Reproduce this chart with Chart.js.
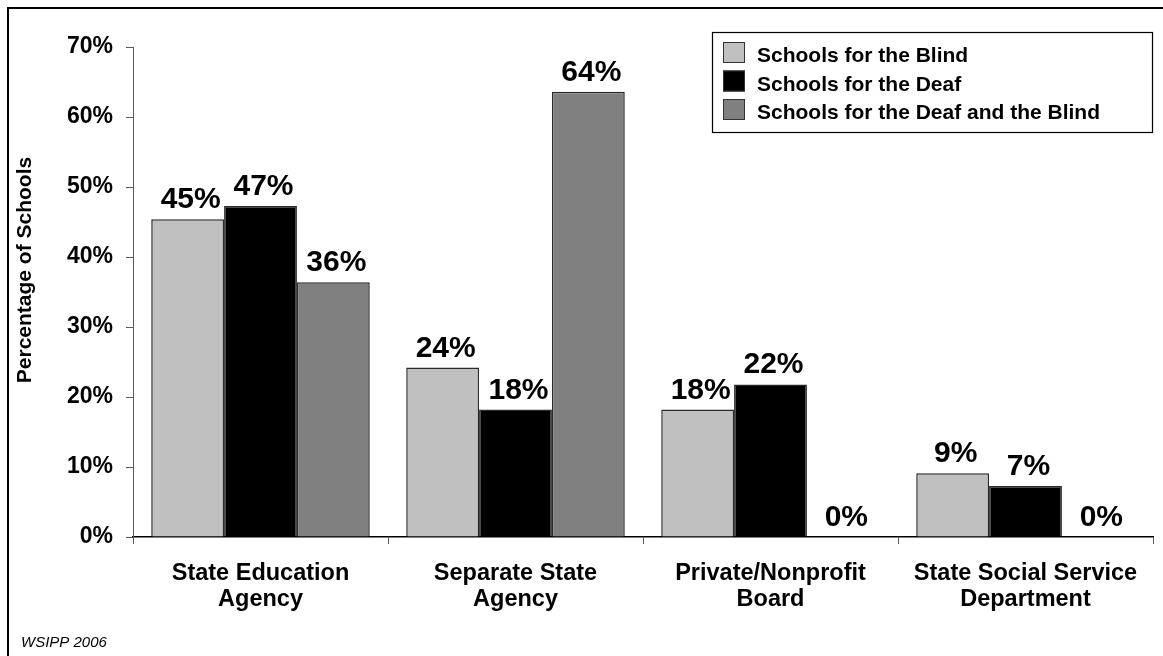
<!DOCTYPE html>
<html>
<head>
<meta charset="utf-8">
<title>Governance of State Schools for the Deaf and the Blind</title>
<script src="https://cdn.jsdelivr.net/npm/chart.js@4/dist/chart.umd.min.js"></script>
<style>
  html, body { margin: 0; padding: 0; background: #ffffff; }
  #wrap { width: 1163px; height: 656px; position: relative; }
</style>
</head>
<body>
<div id="wrap"><canvas id="chart" width="1163" height="656"></canvas></div>
<script>
// Governing bodies (two-line category labels)
const categories = [
  ['State Education', 'Agency'],
  ['Separate State', 'Agency'],
  ['Private/Nonprofit', 'Board'],
  ['State Social Service', 'Department']
];

// Share of schools under each governing body, in percent
const blindSchools = [45.4, 24.2, 18.2, 9.1];
const deafSchools = [47.3, 18.2, 21.8, 7.3];
const deafBlindSchools = [36.4, 63.6, 0, 0];

const seriesNames = [
  'Schools for the Blind',
  'Schools for the Deaf',
  'Schools for the Deaf and the Blind'
];

// Y-axis range and tick step (percent)
const yMin = 0;
const yMax = 70;
const yStep = 10;

const axisTitle = 'Percentage of Schools';
const sourceNote = 'WSIPP 2006';

const FONT = '"Liberation Sans", Arial, Helvetica, sans-serif';
const AXIS_GREY = '#5a5a5a';

// Value labels above each bar
const valueLabels = {
  id: 'valueLabels',
  afterDatasetsDraw(chart) {
    const ctx = chart.ctx;
    ctx.save();
    ctx.font = 'bold 30px ' + FONT;
    ctx.fillStyle = '#000';
    ctx.textAlign = 'center';
    ctx.textBaseline = 'alphabetic';
    chart.data.datasets.forEach((ds, di) => {
      const meta = chart.getDatasetMeta(di);
      meta.data.forEach((bar, i) => {
        const v = ds.data[i];
        ctx.fillText(Math.round(v) + '%', bar.x + 3, bar.y - 11);
      });
    });
    ctx.restore();
  }
};

// Boxed legend in the upper right, outer frame, axis title and source note
const decorations = {
  id: 'decorations',
  afterDraw(chart) {
    const ctx = chart.ctx;
    ctx.save();

    // outer frame (left and top edges of the chart object)
    ctx.strokeStyle = '#000';
    ctx.lineWidth = 2;
    ctx.beginPath();
    ctx.moveTo(8, 660);
    ctx.lineTo(8, 8);
    ctx.lineTo(1170, 8);
    ctx.stroke();

    // legend box
    ctx.lineWidth = 1.2;
    ctx.strokeStyle = '#000';
    ctx.fillStyle = '#fff';
    ctx.fillRect(712, 32, 440, 100);
    ctx.strokeRect(712.5, 32.5, 440, 100);

    ctx.font = 'bold 21px ' + FONT;
    ctx.textAlign = 'left';
    ctx.textBaseline = 'alphabetic';
    chart.data.datasets.forEach((ds, i) => {
      const base = 62 + i * 28.5;
      ctx.fillStyle = ds.backgroundColor;
      ctx.fillRect(723, base - 20, 22, 21);
      ctx.strokeStyle = '#333';
      ctx.lineWidth = 1;
      ctx.strokeRect(723.5, base - 19.5, 21, 20);
      ctx.fillStyle = '#000';
      ctx.fillText(ds.label, 757, base);
    });

    // y-axis title
    ctx.save();
    ctx.translate(31, 270);
    ctx.rotate(-Math.PI / 2);
    ctx.font = 'bold 21px ' + FONT;
    ctx.textAlign = 'center';
    ctx.textBaseline = 'alphabetic';
    ctx.fillStyle = '#000';
    ctx.fillText(axisTitle, 0, 0);
    ctx.restore();

    // source note
    ctx.font = 'italic 15px ' + FONT;
    ctx.textAlign = 'left';
    ctx.fillStyle = '#000';
    ctx.fillText(sourceNote, 21, 647);

    ctx.restore();
  }
};

const borderCol = '#2a2a2a';

new Chart(document.getElementById('chart'), {
  type: 'bar',
  data: {
    labels: categories,
    datasets: [
      { label: seriesNames[0], data: blindSchools, backgroundColor: '#c0c0c0', borderColor: borderCol, borderWidth: 1.5 },
      { label: seriesNames[1], data: deafSchools, backgroundColor: '#000000', borderColor: borderCol, borderWidth: 1.5 },
      { label: seriesNames[2], data: deafBlindSchools, backgroundColor: '#808080', borderColor: borderCol, borderWidth: 1.5 }
    ]
  },
  options: {
    responsive: false,
    devicePixelRatio: 1,
    animation: false,
    layout: { padding: { top: 47, right: 10, bottom: 0, left: 0 } },
    datasets: {
      bar: { categoryPercentage: 0.857, barPercentage: 1.0, borderSkipped: 'start' }
    },
    plugins: {
      legend: { display: false },
      tooltip: { enabled: false },
      title: { display: false }
    },
    scales: {
      x: {
        offset: true,
        grid: {
          offset: true,
          drawOnChartArea: false,
          drawTicks: true,
          tickLength: 7,
          color: AXIS_GREY,
          lineWidth: 1
        },
        border: { display: true, color: '#000', width: 1.5 },
        ticks: {
          color: '#000',
          font: { family: FONT, size: 23.5, weight: 'bold', lineHeight: 1.13 },
          padding: 16,
          maxRotation: 0,
          autoSkip: false
        },
        afterFit(scale) { scale.height = 119; }
      },
      y: {
        min: yMin,
        max: yMax,
        grid: {
          drawOnChartArea: false,
          drawTicks: true,
          tickLength: 7,
          color: AXIS_GREY,
          lineWidth: 1
        },
        border: { display: true, color: AXIS_GREY, width: 1 },
        ticks: {
          stepSize: yStep,
          color: '#000',
          font: { family: FONT, size: 23, weight: 'bold' },
          padding: 13,
          callback: (v) => v + '%'
        },
        afterFit(scale) { scale.width = 133; }
      }
    }
  },
  plugins: [valueLabels, decorations]
});
</script>
</body>
</html>
